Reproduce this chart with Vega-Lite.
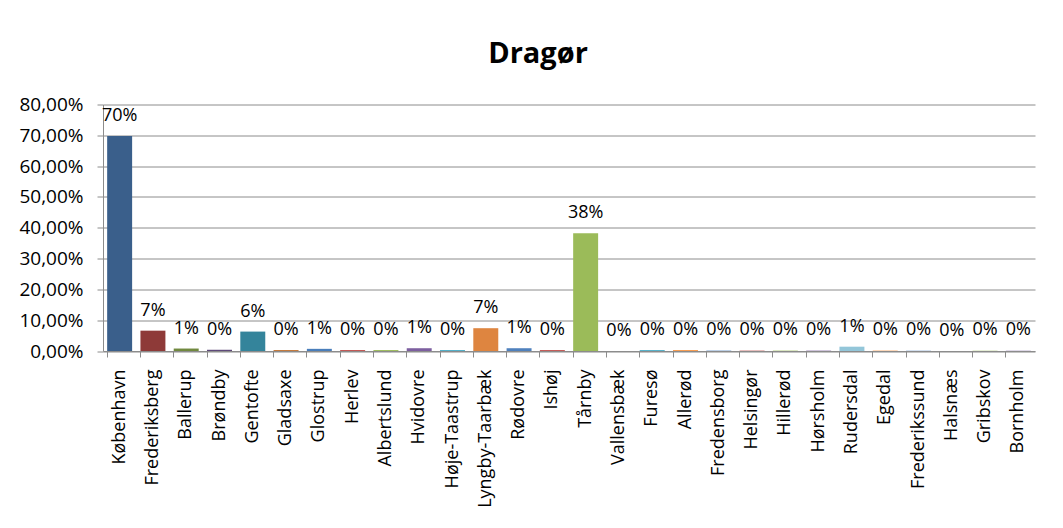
{
  "$schema": "https://vega.github.io/schema/vega-lite/v6.json",
  "width": 932,
  "height": 246.5,
  "autosize": {"type": "none"},
  "padding": {"left": 103, "top": 104.5, "right": 28, "bottom": 177},
  "background": "white",
  "config": {
    "locale": {"number": {"decimal": ",", "thousands": ".", "grouping": [3], "currency": ["", " kr"]}},
    "font": "Open Sans",
    "view": {"stroke": null}
  },
  "title": {
    "text": "Dragør",
    "font": "Open Sans",
    "fontSize": 29,
    "fontWeight": "bold",
    "color": "#000000",
    "anchor": "middle",
    "frame": "group",
    "baseline": "alphabetic",
    "offset": 4,
    "dx": -31
  },
  "data": {
    "values": [
      {"kommune": "København", "andel": 0.698},
      {"kommune": "Frederiksberg", "andel": 0.066},
      {"kommune": "Ballerup", "andel": 0.008},
      {"kommune": "Brøndby", "andel": 0.004},
      {"kommune": "Gentofte", "andel": 0.063},
      {"kommune": "Gladsaxe", "andel": 0.003},
      {"kommune": "Glostrup", "andel": 0.007},
      {"kommune": "Herlev", "andel": 0.003},
      {"kommune": "Albertslund", "andel": 0.003},
      {"kommune": "Hvidovre", "andel": 0.009},
      {"kommune": "Høje-Taastrup", "andel": 0.003},
      {"kommune": "Lyngby-Taarbæk", "andel": 0.074},
      {"kommune": "Rødovre", "andel": 0.009},
      {"kommune": "Ishøj", "andel": 0.003},
      {"kommune": "Tårnby", "andel": 0.382},
      {"kommune": "Vallensbæk", "andel": 0},
      {"kommune": "Furesø", "andel": 0.003},
      {"kommune": "Allerød", "andel": 0.003},
      {"kommune": "Fredensborg", "andel": 0.002},
      {"kommune": "Helsingør", "andel": 0.002},
      {"kommune": "Hillerød", "andel": 0.002},
      {"kommune": "Hørsholm", "andel": 0.002},
      {"kommune": "Rudersdal", "andel": 0.014},
      {"kommune": "Egedal", "andel": 0.002},
      {"kommune": "Frederikssund", "andel": 0.002},
      {"kommune": "Halsnæs", "andel": 0},
      {"kommune": "Gribskov", "andel": 0.002},
      {"kommune": "Bornholm", "andel": 0.002}
    ]
  },
  "encoding": {
    "x": {
      "field": "kommune",
      "type": "nominal",
      "sort": null,
      "title": null,
      "scale": {"paddingInner": 0.25, "paddingOuter": 0.125},
      "axis": {
        "labelAngle": -90,
        "labelFont": "Open Sans",
        "labelFontSize": 18,
        "labelColor": "#000000",
        "labelPadding": 12,
        "bandPosition": 0,
        "tickSize": 6,
        "tickColor": "#8c8c8c",
        "domainColor": "#8c8c8c",
        "grid": false,
        "labelOverlap": false
      }
    },
    "y": {
      "field": "andel",
      "type": "quantitative",
      "title": null,
      "scale": {"domain": [0, 0.8], "nice": false},
      "axis": {
        "format": ".2%",
        "values": [0, 0.1, 0.2, 0.3, 0.4, 0.5, 0.6, 0.7, 0.8],
        "labelFont": "Open Sans",
        "labelFontSize": 19,
        "labelColor": "#000000",
        "labelPadding": 14,
        "tickSize": 6,
        "tickColor": "#8c8c8c",
        "domainColor": "#8c8c8c",
        "gridColor": "#8c8c8c",
        "gridOpacity": 1
      }
    }
  },
  "layer": [
    {
      "mark": {"type": "bar"},
      "encoding": {
        "color": {
          "field": "kommune",
          "type": "nominal",
          "legend": null,
          "scale": {
            "domain": ["København", "Frederiksberg", "Ballerup", "Brøndby", "Gentofte", "Gladsaxe", "Glostrup", "Herlev", "Albertslund", "Hvidovre", "Høje-Taastrup", "Lyngby-Taarbæk", "Rødovre", "Ishøj", "Tårnby", "Vallensbæk", "Furesø", "Allerød", "Fredensborg", "Helsingør", "Hillerød", "Hørsholm", "Rudersdal", "Egedal", "Frederikssund", "Halsnæs", "Gribskov", "Bornholm"],
            "range": ["#3A5F8B", "#8E3A38", "#71893F", "#5E4A7A", "#34849B", "#C0702F", "#4A7EBB", "#BE4B48", "#98B954", "#7D5FA0", "#46AAC5", "#DE8540", "#4F81BD", "#C0504D", "#9BBB59", "#8064A2", "#4BACC6", "#F79646", "#95B3D7", "#D99694", "#C3D69B", "#B3A2C7", "#93C6D9", "#FAC090", "#B9CDE5", "#E6B9B8", "#D7E4BD", "#CCC1DA"]
          }
        }
      }
    },
    {
      "mark": {"type": "text", "baseline": "middle", "align": "center", "dy": -20, "font": "Open Sans", "fontSize": 18, "color": "#000000"},
      "encoding": {
        "text": {"field": "andel", "type": "quantitative", "format": ".0%"}
      }
    }
  ]
}
